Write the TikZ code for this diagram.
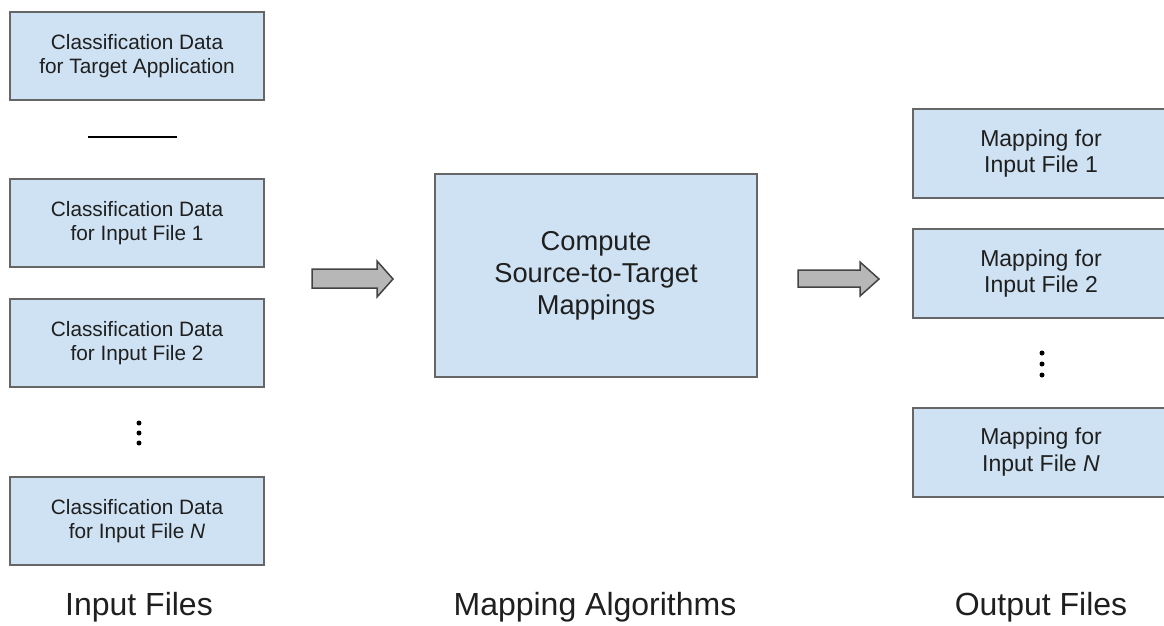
\documentclass[tikz,border=0pt]{standalone}
\usepackage{fontspec}
\setmainfont{Liberation Sans}
\definecolor{boxfill}{HTML}{CFE2F3}
\definecolor{boxline}{HTML}{666666}
\definecolor{arrfill}{HTML}{B7B7B7}
\definecolor{arrline}{HTML}{434343}
\definecolor{txt}{HTML}{1F1F1F}
\tikzset{
  filebox/.style={draw=boxline, line width=2pt, fill=boxfill, inner sep=0pt,
    align=center, text=txt, font=\fontsize{20.8}{24}\selectfont},
  leftbox/.style={filebox, minimum width=254pt, minimum height=88pt},
  rightbox/.style={filebox, minimum width=256pt, minimum height=89pt,
    font=\fontsize{23}{26.7}\selectfont},
  centerbox/.style={filebox, minimum width=322pt, minimum height=203pt,
    font=\fontsize{27.3}{32}\selectfont},
  blockarrow/.style={draw=arrline, line width=1.5pt, fill=arrfill, line join=miter},
  caption/.style={anchor=base, text=txt, font=\fontsize{32}{38}\selectfont},
  dot/.style={circle, fill=black, inner sep=0pt, minimum size=5pt},
}
\begin{document}
\begin{tikzpicture}[x=1pt, y=-1pt]
\useasboundingbox (0,0) rectangle (1164,625);
\clip (0,0) rectangle (1164,625);
% left column
\node[leftbox] (tgt) at (137,56) {Classification Data\\for Target Application};
\coordinate (sepL) at (88,137);
\coordinate (sepR) at (177,137);
\draw[line width=2.5pt, black] (sepL) -- (sepR);
\node[leftbox] (in1) at (137,223) {Classification Data\\for Input File 1};
\node[leftbox] (in2) at (137,343) {Classification Data\\for Input File 2};
\node[dot] (ld1) at (139,423) {};
\node[dot] (ld2) at (139,433) {};
\node[dot] (ld3) at (139,443) {};
\node[leftbox] (inN) at (137,521) {Classification Data\\for Input File \textit{N}};
% center
\node[centerbox] (comp) at (596,275.5) {Compute\\Source-to-Target\\Mappings};
% right column
\node[rightbox] (out1) at (1041,153.5) {Mapping for\\Input File 1};
\node[rightbox] (out2) at (1041,273.5) {Mapping for\\Input File 2};
\node[dot] (rd1) at (1042,353) {};
\node[dot] (rd2) at (1042,364) {};
\node[dot] (rd3) at (1042,375) {};
\node[rightbox] (outN) at (1041,452) {Mapping for\\Input File \textit{N}};
% block arrows
\draw[blockarrow] (312,269) -- (377,269) -- (377,261) -- (393,279) -- (377,297) -- (377,288) -- (312,288) -- cycle;
\draw[blockarrow] (798,270) -- (860,270) -- (860,262) -- (879,279) -- (860,296) -- (860,287) -- (798,287) -- cycle;
% captions
\node[caption] (capIn) at (139,615) {Input Files};
\node[caption] (capMap) at (595,615) {Mapping Algorithms};
\node[caption] (capOut) at (1041,615) {Output Files};
\end{tikzpicture}
\end{document}
